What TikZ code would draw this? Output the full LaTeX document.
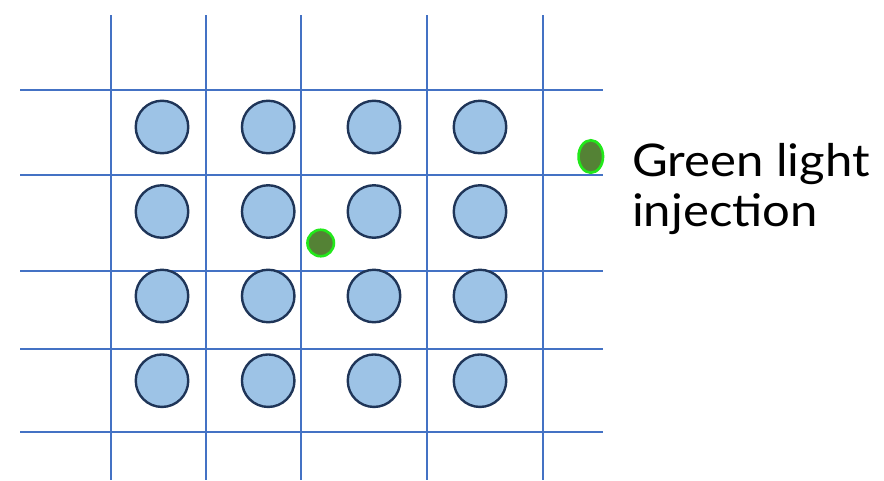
\documentclass[tikz,border=0pt]{standalone}
\usepackage{fontspec}
\setmainfont{Lato}[FakeStretch=1.09]
\usetikzlibrary{shapes.geometric}
\definecolor{gridblue}{HTML}{4472C4}
\definecolor{cfill}{HTML}{9DC3E6}
\definecolor{cdraw}{HTML}{1F3558}
\definecolor{gfill}{HTML}{548235}
\definecolor{gdraw}{HTML}{22E81A}
\begin{document}
\begin{tikzpicture}[x=1pt,y=-1pt,
  gridline/.style={draw=gridblue,line width=1.8pt},
  atom/.style={circle,draw=cdraw,fill=cfill,line width=2.4pt,minimum size=52.5pt,inner sep=0pt},
  dot/.style={draw=gdraw,fill=gfill,line width=2.6pt,inner sep=0pt},
  label/.style={font=\fontsize{45}{50}\selectfont,align=left,inner sep=0pt,anchor=base west}]
\useasboundingbox (0,0) rectangle (884,480);
% vertical lines
\foreach \x in {111,206,301,427,543}
  \draw[gridline] (\x,15) -- (\x,480);
% horizontal lines
\foreach \y in {90,175,271,349,432}
  \draw[gridline] (20,\y) -- (603,\y);
% atoms
\foreach \y [count=\r] in {127,211.5,296,380.7}
  \foreach \x [count=\c] in {162,268.2,374,480}
    \node[atom] (a\r\c) at (\x,\y) {};
% injected green dot in the lattice
\node[dot,circle,minimum size=26.5pt] (g1) at (320.7,243) {};
% green light source
\node[dot,ellipse,minimum width=24.5pt,minimum height=32.5pt] (g2) at (590.8,156.5) {};
\node[label] (txt) at (632,226) {Green light\\injection};
\end{tikzpicture}
\end{document}
